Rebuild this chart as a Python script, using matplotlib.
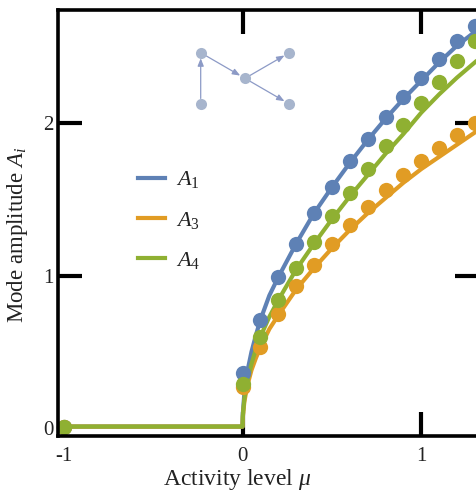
import matplotlib
matplotlib.use("Agg")
import matplotlib.pyplot as plt
from matplotlib.lines import Line2D

plt.rcParams.update({
    "font.family": ["Liberation Serif", "DejaVu Serif"],
    "mathtext.fontset": "custom",
    "mathtext.rm": "Liberation Serif",
    "mathtext.it": "Liberation Serif:italic",
    "mathtext.bf": "Liberation Serif:bold",
})

# ---------------- data ----------------
mu_pts = [-1, 0.0, 0.1, 0.2, 0.3, 0.4, 0.5, 0.6, 0.7, 0.8, 0.9, 1.0, 1.1, 1.2, 1.3]
A1_pts = [0.01, 0.36, 0.71, 0.99, 1.21, 1.41, 1.58, 1.75, 1.90, 2.04, 2.17, 2.30, 2.42, 2.54, 2.64]
A3_pts = [0.01, 0.27, 0.53, 0.75, 0.93, 1.07, 1.21, 1.33, 1.45, 1.56, 1.66, 1.75, 1.84, 1.92, 2.00]
A4_pts = [0.01, 0.29, 0.60, 0.84, 1.05, 1.22, 1.39, 1.54, 1.70, 1.85, 1.99, 2.13, 2.27, 2.41, 2.54]

mu_line = [-1, 0.0, 0.002, 0.01, 0.025, 0.05, 0.075, 0.1, 0.15, 0.2, 0.3, 0.4, 0.5,
           0.6, 0.7, 0.8, 0.9, 1.0, 1.1, 1.2, 1.3, 1.33]
A1_line = [0.01, 0.01, 0.10, 0.225, 0.36, 0.50, 0.61, 0.71, 0.87, 0.99, 1.21, 1.41, 1.58,
           1.74, 1.89, 2.03, 2.16, 2.28, 2.40, 2.51, 2.60, 2.62]
A3_line = [0.01, 0.01, 0.075, 0.17, 0.27, 0.38, 0.46, 0.53, 0.65, 0.74, 0.91, 1.05, 1.18,
           1.30, 1.41, 1.51, 1.61, 1.70, 1.78, 1.86, 1.94, 1.96]
A4_line = [0.01, 0.01, 0.085, 0.19, 0.30, 0.42, 0.52, 0.60, 0.73, 0.84, 1.04, 1.21, 1.37,
           1.52, 1.66, 1.80, 1.93, 2.07, 2.19, 2.30, 2.40, 2.43]

labels = [r"$A_{\mathit{1}}$", r"$A_{\mathit{3}}$", r"$A_{\mathit{4}}$"]
colors = ["#5E81B5", "#E19C24", "#8FB032"]

x_ticks = [-1, 0, 1]
x_ticklabels = ["-1", "0", "1"]
y_ticks = [0, 1, 2]
y_ticklabels = ["0", "1", "2"]

# network inset (node layout + directed edges)
node_x = [0, 0, 1, 2, 2]
node_y = [1, 0, 0.5, 1, 0]
edges = [(1, 0), (0, 2), (2, 3), (2, 4)]

# ---------------- figure ----------------
W, H = 477, 493
fig = plt.figure(figsize=(W / 100, H / 100), dpi=100)
ax = fig.add_axes([57.7 / W, (H - 435.5) / H, (479 - 57.7) / W, (435.5 - 10) / H])

lines = [A1_line, A3_line, A4_line]
pts = [A1_pts, A3_pts, A4_pts]
for yl, c in zip(lines, colors):
    ax.plot(mu_line, yl, color=c, lw=3.0, solid_capstyle="butt", zorder=2)
for yp, c in zip(pts, colors):
    ax.plot(mu_pts, yp, "o", color=c, ms=11, mec="none", zorder=3, clip_on=False)

ax.set_xlim(-1.034, 1.323)
ax.set_ylim(-0.0486, 2.7435)

ax.set_xticks(x_ticks)
ax.set_xticklabels(x_ticklabels)
ax.set_yticks(y_ticks)
ax.set_yticklabels(y_ticklabels)
ax.tick_params(direction="in", length=17, width=3, top=True, right=True,
               labelsize=15, colors="black", labelcolor="#222222")
ax.tick_params(axis="x", pad=8)
ax.tick_params(axis="y", pad=3)
# hide tick marks that coincide with the frame corner
for t in ax.xaxis.get_major_ticks()[:1]:
    t.tick1line.set_visible(False)
    t.tick2line.set_visible(False)
for t in ax.yaxis.get_major_ticks()[:1]:
    t.tick1line.set_visible(False)
    t.tick2line.set_visible(False)

for s in ax.spines.values():
    s.set_linewidth(2.6)
    s.set_color("black")
    s.set_zorder(4)

fig.text(237.5 / W, 1 - 480 / H, r"Activity level $\mu$", ha="center", va="center",
         fontsize=17, color="#222222")
fig.text(18 / W, 1 - 235 / H, r"Mode amplitude $A_{\mathit{i}}$", ha="center", va="center",
         rotation=90, fontsize=16.5, color="#222222")

handles = [Line2D([], [], color=c, lw=3.0) for c in colors]
ax.legend(handles, labels, loc="upper left",
          bbox_to_anchor=(138 / W, 1 - 169.5 / H), bbox_transform=fig.transFigure,
          frameon=False, fontsize=16, handlelength=1.2, handletextpad=0.5,
          labelspacing=0.87, borderpad=0, borderaxespad=0, labelcolor="#222222")

# network inset
iax = fig.add_axes([190.7 / W, 1 - 114.3 / H, (299.3 - 190.7) / W, (114.3 - 42.4) / H])
iax.set_xlim(-10 / 44.3, 2 + 10 / 44.3)
iax.set_ylim(-10.3 / 51.3, 1 + 10.3 / 51.3)
iax.axis("off")
for a, b in edges:
    iax.annotate("", xy=(node_x[b], node_y[b]), xytext=(node_x[a], node_y[a]),
                 arrowprops=dict(arrowstyle="-|>,head_length=0.45,head_width=0.18",
                                 color="#8C9AC6", lw=0.9, shrinkA=4, shrinkB=4))
iax.plot(node_x, node_y, "o", ms=8, color="#A7B5CD", mec="none", zorder=5)

fig.savefig("out.png", dpi=100)
